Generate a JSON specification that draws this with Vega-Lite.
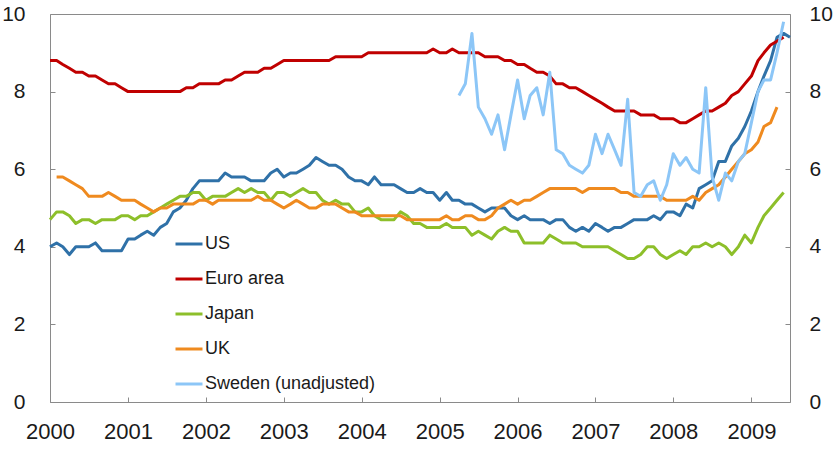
{
  "$schema": "https://vega.github.io/schema/vega-lite/v6.json",
  "width": 740,
  "height": 388,
  "autosize": {"type": "none"},
  "padding": {"left": 50, "top": 14, "right": 48, "bottom": 52},
  "background": "white",
  "config": {
    "view": {"stroke": "#8a8a8a", "strokeWidth": 1},
    "font": "Liberation Sans",
    "axis": {"grid": false, "domain": false, "tickColor": "#8a8a8a", "tickSize": -5, "labelFontSize": 21, "labelColor": "#1a1a1a", "title": null}
  },
  "data": {"values": [
    {"date": "2000/01/01", "US": 4.0, "Euro area": 8.8, "Japan": 4.7, "UK": null, "Sweden (unadjusted)": null},
    {"date": "2000/02/01", "US": 4.1, "Euro area": 8.8, "Japan": 4.9, "UK": 5.8, "Sweden (unadjusted)": null},
    {"date": "2000/03/01", "US": 4.0, "Euro area": 8.7, "Japan": 4.9, "UK": 5.8, "Sweden (unadjusted)": null},
    {"date": "2000/04/01", "US": 3.8, "Euro area": 8.6, "Japan": 4.8, "UK": 5.7, "Sweden (unadjusted)": null},
    {"date": "2000/05/01", "US": 4.0, "Euro area": 8.5, "Japan": 4.6, "UK": 5.6, "Sweden (unadjusted)": null},
    {"date": "2000/06/01", "US": 4.0, "Euro area": 8.5, "Japan": 4.7, "UK": 5.5, "Sweden (unadjusted)": null},
    {"date": "2000/07/01", "US": 4.0, "Euro area": 8.4, "Japan": 4.7, "UK": 5.3, "Sweden (unadjusted)": null},
    {"date": "2000/08/01", "US": 4.1, "Euro area": 8.4, "Japan": 4.6, "UK": 5.3, "Sweden (unadjusted)": null},
    {"date": "2000/09/01", "US": 3.9, "Euro area": 8.3, "Japan": 4.7, "UK": 5.3, "Sweden (unadjusted)": null},
    {"date": "2000/10/01", "US": 3.9, "Euro area": 8.2, "Japan": 4.7, "UK": 5.4, "Sweden (unadjusted)": null},
    {"date": "2000/11/01", "US": 3.9, "Euro area": 8.2, "Japan": 4.7, "UK": 5.3, "Sweden (unadjusted)": null},
    {"date": "2000/12/01", "US": 3.9, "Euro area": 8.1, "Japan": 4.8, "UK": 5.2, "Sweden (unadjusted)": null},
    {"date": "2001/01/01", "US": 4.2, "Euro area": 8.0, "Japan": 4.8, "UK": 5.2, "Sweden (unadjusted)": null},
    {"date": "2001/02/01", "US": 4.2, "Euro area": 8.0, "Japan": 4.7, "UK": 5.2, "Sweden (unadjusted)": null},
    {"date": "2001/03/01", "US": 4.3, "Euro area": 8.0, "Japan": 4.8, "UK": 5.1, "Sweden (unadjusted)": null},
    {"date": "2001/04/01", "US": 4.4, "Euro area": 8.0, "Japan": 4.8, "UK": 5.0, "Sweden (unadjusted)": null},
    {"date": "2001/05/01", "US": 4.3, "Euro area": 8.0, "Japan": 4.9, "UK": 4.9, "Sweden (unadjusted)": null},
    {"date": "2001/06/01", "US": 4.5, "Euro area": 8.0, "Japan": 5.0, "UK": 5.0, "Sweden (unadjusted)": null},
    {"date": "2001/07/01", "US": 4.6, "Euro area": 8.0, "Japan": 5.1, "UK": 5.0, "Sweden (unadjusted)": null},
    {"date": "2001/08/01", "US": 4.9, "Euro area": 8.0, "Japan": 5.2, "UK": 5.1, "Sweden (unadjusted)": null},
    {"date": "2001/09/01", "US": 5.0, "Euro area": 8.0, "Japan": 5.3, "UK": 5.1, "Sweden (unadjusted)": null},
    {"date": "2001/10/01", "US": 5.2, "Euro area": 8.1, "Japan": 5.3, "UK": 5.1, "Sweden (unadjusted)": null},
    {"date": "2001/11/01", "US": 5.5, "Euro area": 8.1, "Japan": 5.4, "UK": 5.1, "Sweden (unadjusted)": null},
    {"date": "2001/12/01", "US": 5.7, "Euro area": 8.2, "Japan": 5.4, "UK": 5.2, "Sweden (unadjusted)": null},
    {"date": "2002/01/01", "US": 5.7, "Euro area": 8.2, "Japan": 5.2, "UK": 5.2, "Sweden (unadjusted)": null},
    {"date": "2002/02/01", "US": 5.7, "Euro area": 8.2, "Japan": 5.3, "UK": 5.1, "Sweden (unadjusted)": null},
    {"date": "2002/03/01", "US": 5.7, "Euro area": 8.2, "Japan": 5.3, "UK": 5.2, "Sweden (unadjusted)": null},
    {"date": "2002/04/01", "US": 5.9, "Euro area": 8.3, "Japan": 5.3, "UK": 5.2, "Sweden (unadjusted)": null},
    {"date": "2002/05/01", "US": 5.8, "Euro area": 8.3, "Japan": 5.4, "UK": 5.2, "Sweden (unadjusted)": null},
    {"date": "2002/06/01", "US": 5.8, "Euro area": 8.4, "Japan": 5.5, "UK": 5.2, "Sweden (unadjusted)": null},
    {"date": "2002/07/01", "US": 5.8, "Euro area": 8.5, "Japan": 5.4, "UK": 5.2, "Sweden (unadjusted)": null},
    {"date": "2002/08/01", "US": 5.7, "Euro area": 8.5, "Japan": 5.5, "UK": 5.2, "Sweden (unadjusted)": null},
    {"date": "2002/09/01", "US": 5.7, "Euro area": 8.5, "Japan": 5.4, "UK": 5.3, "Sweden (unadjusted)": null},
    {"date": "2002/10/01", "US": 5.7, "Euro area": 8.6, "Japan": 5.4, "UK": 5.2, "Sweden (unadjusted)": null},
    {"date": "2002/11/01", "US": 5.9, "Euro area": 8.6, "Japan": 5.2, "UK": 5.2, "Sweden (unadjusted)": null},
    {"date": "2002/12/01", "US": 6.0, "Euro area": 8.7, "Japan": 5.4, "UK": 5.1, "Sweden (unadjusted)": null},
    {"date": "2003/01/01", "US": 5.8, "Euro area": 8.8, "Japan": 5.4, "UK": 5.0, "Sweden (unadjusted)": null},
    {"date": "2003/02/01", "US": 5.9, "Euro area": 8.8, "Japan": 5.3, "UK": 5.1, "Sweden (unadjusted)": null},
    {"date": "2003/03/01", "US": 5.9, "Euro area": 8.8, "Japan": 5.4, "UK": 5.2, "Sweden (unadjusted)": null},
    {"date": "2003/04/01", "US": 6.0, "Euro area": 8.8, "Japan": 5.5, "UK": 5.1, "Sweden (unadjusted)": null},
    {"date": "2003/05/01", "US": 6.1, "Euro area": 8.8, "Japan": 5.4, "UK": 5.0, "Sweden (unadjusted)": null},
    {"date": "2003/06/01", "US": 6.3, "Euro area": 8.8, "Japan": 5.4, "UK": 5.0, "Sweden (unadjusted)": null},
    {"date": "2003/07/01", "US": 6.2, "Euro area": 8.8, "Japan": 5.2, "UK": 5.1, "Sweden (unadjusted)": null},
    {"date": "2003/08/01", "US": 6.1, "Euro area": 8.8, "Japan": 5.1, "UK": 5.1, "Sweden (unadjusted)": null},
    {"date": "2003/09/01", "US": 6.1, "Euro area": 8.9, "Japan": 5.2, "UK": 5.1, "Sweden (unadjusted)": null},
    {"date": "2003/10/01", "US": 6.0, "Euro area": 8.9, "Japan": 5.1, "UK": 5.0, "Sweden (unadjusted)": null},
    {"date": "2003/11/01", "US": 5.8, "Euro area": 8.9, "Japan": 5.1, "UK": 4.9, "Sweden (unadjusted)": null},
    {"date": "2003/12/01", "US": 5.7, "Euro area": 8.9, "Japan": 4.9, "UK": 4.9, "Sweden (unadjusted)": null},
    {"date": "2004/01/01", "US": 5.7, "Euro area": 8.9, "Japan": 4.9, "UK": 4.8, "Sweden (unadjusted)": null},
    {"date": "2004/02/01", "US": 5.6, "Euro area": 9.0, "Japan": 5.0, "UK": 4.8, "Sweden (unadjusted)": null},
    {"date": "2004/03/01", "US": 5.8, "Euro area": 9.0, "Japan": 4.8, "UK": 4.8, "Sweden (unadjusted)": null},
    {"date": "2004/04/01", "US": 5.6, "Euro area": 9.0, "Japan": 4.7, "UK": 4.8, "Sweden (unadjusted)": null},
    {"date": "2004/05/01", "US": 5.6, "Euro area": 9.0, "Japan": 4.7, "UK": 4.8, "Sweden (unadjusted)": null},
    {"date": "2004/06/01", "US": 5.6, "Euro area": 9.0, "Japan": 4.7, "UK": 4.8, "Sweden (unadjusted)": null},
    {"date": "2004/07/01", "US": 5.5, "Euro area": 9.0, "Japan": 4.9, "UK": 4.8, "Sweden (unadjusted)": null},
    {"date": "2004/08/01", "US": 5.4, "Euro area": 9.0, "Japan": 4.8, "UK": 4.7, "Sweden (unadjusted)": null},
    {"date": "2004/09/01", "US": 5.4, "Euro area": 9.0, "Japan": 4.6, "UK": 4.7, "Sweden (unadjusted)": null},
    {"date": "2004/10/01", "US": 5.5, "Euro area": 9.0, "Japan": 4.6, "UK": 4.7, "Sweden (unadjusted)": null},
    {"date": "2004/11/01", "US": 5.4, "Euro area": 9.0, "Japan": 4.5, "UK": 4.7, "Sweden (unadjusted)": null},
    {"date": "2004/12/01", "US": 5.4, "Euro area": 9.1, "Japan": 4.5, "UK": 4.7, "Sweden (unadjusted)": null},
    {"date": "2005/01/01", "US": 5.2, "Euro area": 9.0, "Japan": 4.5, "UK": 4.7, "Sweden (unadjusted)": null},
    {"date": "2005/02/01", "US": 5.4, "Euro area": 9.0, "Japan": 4.6, "UK": 4.8, "Sweden (unadjusted)": null},
    {"date": "2005/03/01", "US": 5.2, "Euro area": 9.1, "Japan": 4.5, "UK": 4.7, "Sweden (unadjusted)": null},
    {"date": "2005/04/01", "US": 5.2, "Euro area": 9.0, "Japan": 4.5, "UK": 4.7, "Sweden (unadjusted)": 7.9},
    {"date": "2005/05/01", "US": 5.1, "Euro area": 9.0, "Japan": 4.5, "UK": 4.8, "Sweden (unadjusted)": 8.2},
    {"date": "2005/06/01", "US": 5.1, "Euro area": 9.0, "Japan": 4.3, "UK": 4.8, "Sweden (unadjusted)": 9.5},
    {"date": "2005/07/01", "US": 5.0, "Euro area": 9.0, "Japan": 4.4, "UK": 4.7, "Sweden (unadjusted)": 7.6},
    {"date": "2005/08/01", "US": 4.9, "Euro area": 8.9, "Japan": 4.3, "UK": 4.7, "Sweden (unadjusted)": 7.3},
    {"date": "2005/09/01", "US": 5.0, "Euro area": 8.9, "Japan": 4.2, "UK": 4.8, "Sweden (unadjusted)": 6.9},
    {"date": "2005/10/01", "US": 5.0, "Euro area": 8.9, "Japan": 4.4, "UK": 5.0, "Sweden (unadjusted)": 7.4},
    {"date": "2005/11/01", "US": 5.0, "Euro area": 8.8, "Japan": 4.5, "UK": 5.1, "Sweden (unadjusted)": 6.5},
    {"date": "2005/12/01", "US": 4.8, "Euro area": 8.8, "Japan": 4.4, "UK": 5.2, "Sweden (unadjusted)": 7.4},
    {"date": "2006/01/01", "US": 4.7, "Euro area": 8.7, "Japan": 4.4, "UK": 5.1, "Sweden (unadjusted)": 8.3},
    {"date": "2006/02/01", "US": 4.8, "Euro area": 8.7, "Japan": 4.1, "UK": 5.2, "Sweden (unadjusted)": 7.3},
    {"date": "2006/03/01", "US": 4.7, "Euro area": 8.6, "Japan": 4.1, "UK": 5.2, "Sweden (unadjusted)": 7.9},
    {"date": "2006/04/01", "US": 4.7, "Euro area": 8.5, "Japan": 4.1, "UK": 5.3, "Sweden (unadjusted)": 8.1},
    {"date": "2006/05/01", "US": 4.7, "Euro area": 8.5, "Japan": 4.1, "UK": 5.4, "Sweden (unadjusted)": 7.4},
    {"date": "2006/06/01", "US": 4.6, "Euro area": 8.4, "Japan": 4.3, "UK": 5.5, "Sweden (unadjusted)": 8.5},
    {"date": "2006/07/01", "US": 4.7, "Euro area": 8.2, "Japan": 4.2, "UK": 5.5, "Sweden (unadjusted)": 6.5},
    {"date": "2006/08/01", "US": 4.7, "Euro area": 8.2, "Japan": 4.1, "UK": 5.5, "Sweden (unadjusted)": 6.4},
    {"date": "2006/09/01", "US": 4.5, "Euro area": 8.1, "Japan": 4.1, "UK": 5.5, "Sweden (unadjusted)": 6.1},
    {"date": "2006/10/01", "US": 4.4, "Euro area": 8.1, "Japan": 4.1, "UK": 5.5, "Sweden (unadjusted)": 6.0},
    {"date": "2006/11/01", "US": 4.5, "Euro area": 8.0, "Japan": 4.0, "UK": 5.4, "Sweden (unadjusted)": 5.9},
    {"date": "2006/12/01", "US": 4.4, "Euro area": 7.9, "Japan": 4.0, "UK": 5.5, "Sweden (unadjusted)": 6.1},
    {"date": "2007/01/01", "US": 4.6, "Euro area": 7.8, "Japan": 4.0, "UK": 5.5, "Sweden (unadjusted)": 6.9},
    {"date": "2007/02/01", "US": 4.5, "Euro area": 7.7, "Japan": 4.0, "UK": 5.5, "Sweden (unadjusted)": 6.4},
    {"date": "2007/03/01", "US": 4.4, "Euro area": 7.6, "Japan": 4.0, "UK": 5.5, "Sweden (unadjusted)": 6.9},
    {"date": "2007/04/01", "US": 4.5, "Euro area": 7.5, "Japan": 3.9, "UK": 5.5, "Sweden (unadjusted)": 6.5},
    {"date": "2007/05/01", "US": 4.5, "Euro area": 7.5, "Japan": 3.8, "UK": 5.4, "Sweden (unadjusted)": 6.1},
    {"date": "2007/06/01", "US": 4.6, "Euro area": 7.5, "Japan": 3.7, "UK": 5.4, "Sweden (unadjusted)": 7.8},
    {"date": "2007/07/01", "US": 4.7, "Euro area": 7.5, "Japan": 3.7, "UK": 5.3, "Sweden (unadjusted)": 5.4},
    {"date": "2007/08/01", "US": 4.7, "Euro area": 7.4, "Japan": 3.8, "UK": 5.3, "Sweden (unadjusted)": 5.3},
    {"date": "2007/09/01", "US": 4.7, "Euro area": 7.4, "Japan": 4.0, "UK": 5.3, "Sweden (unadjusted)": 5.6},
    {"date": "2007/10/01", "US": 4.8, "Euro area": 7.4, "Japan": 4.0, "UK": 5.3, "Sweden (unadjusted)": 5.7},
    {"date": "2007/11/01", "US": 4.7, "Euro area": 7.3, "Japan": 3.8, "UK": 5.3, "Sweden (unadjusted)": 5.2},
    {"date": "2007/12/01", "US": 4.9, "Euro area": 7.3, "Japan": 3.7, "UK": 5.2, "Sweden (unadjusted)": 5.6},
    {"date": "2008/01/01", "US": 4.9, "Euro area": 7.3, "Japan": 3.8, "UK": 5.2, "Sweden (unadjusted)": 6.4},
    {"date": "2008/02/01", "US": 4.8, "Euro area": 7.2, "Japan": 3.9, "UK": 5.2, "Sweden (unadjusted)": 6.1},
    {"date": "2008/03/01", "US": 5.1, "Euro area": 7.2, "Japan": 3.8, "UK": 5.2, "Sweden (unadjusted)": 6.3},
    {"date": "2008/04/01", "US": 5.0, "Euro area": 7.3, "Japan": 4.0, "UK": 5.3, "Sweden (unadjusted)": 6.0},
    {"date": "2008/05/01", "US": 5.5, "Euro area": 7.4, "Japan": 4.0, "UK": 5.2, "Sweden (unadjusted)": 5.9},
    {"date": "2008/06/01", "US": 5.6, "Euro area": 7.5, "Japan": 4.1, "UK": 5.4, "Sweden (unadjusted)": 8.1},
    {"date": "2008/07/01", "US": 5.7, "Euro area": 7.5, "Japan": 4.0, "UK": 5.5, "Sweden (unadjusted)": 5.8},
    {"date": "2008/08/01", "US": 6.2, "Euro area": 7.6, "Japan": 4.1, "UK": 5.6, "Sweden (unadjusted)": 5.2},
    {"date": "2008/09/01", "US": 6.2, "Euro area": 7.7, "Japan": 4.0, "UK": 5.8, "Sweden (unadjusted)": 5.9},
    {"date": "2008/10/01", "US": 6.6, "Euro area": 7.9, "Japan": 3.8, "UK": 6.0, "Sweden (unadjusted)": 5.7},
    {"date": "2008/11/01", "US": 6.8, "Euro area": 8.0, "Japan": 4.0, "UK": 6.2, "Sweden (unadjusted)": 6.2},
    {"date": "2008/12/01", "US": 7.1, "Euro area": 8.2, "Japan": 4.3, "UK": 6.4, "Sweden (unadjusted)": 6.4},
    {"date": "2009/01/01", "US": 7.5, "Euro area": 8.4, "Japan": 4.1, "UK": 6.5, "Sweden (unadjusted)": 7.2},
    {"date": "2009/02/01", "US": 8.0, "Euro area": 8.8, "Japan": 4.5, "UK": 6.7, "Sweden (unadjusted)": 8.0},
    {"date": "2009/03/01", "US": 8.4, "Euro area": 9.0, "Japan": 4.8, "UK": 7.1, "Sweden (unadjusted)": 8.3},
    {"date": "2009/04/01", "US": 8.8, "Euro area": 9.2, "Japan": 5.0, "UK": 7.2, "Sweden (unadjusted)": 8.3},
    {"date": "2009/05/01", "US": 9.4, "Euro area": 9.3, "Japan": 5.2, "UK": 7.6, "Sweden (unadjusted)": 9.0},
    {"date": "2009/06/01", "US": 9.5, "Euro area": 9.4, "Japan": 5.4, "UK": null, "Sweden (unadjusted)": 9.8},
    {"date": "2009/07/01", "US": 9.4, "Euro area": null, "Japan": null, "UK": null, "Sweden (unadjusted)": null}
  ]},
  "transform": [
    {"fold": ["US", "Euro area", "Japan", "UK", "Sweden (unadjusted)"], "as": ["series", "value"]},
    {"filter": "datum.value != null"}
  ],
  "layer": [
    {
      "mark": {"type": "line", "strokeWidth": 3, "strokeJoin": "round"},
      "encoding": {
        "x": {"field": "date", "type": "temporal",
              "scale": {"domain": [{"year": 2000, "month": 1, "date": 1}, {"year": 2009, "month": 7, "date": 1}]},
              "axis": {"format": "%Y", "tickCount": {"interval": "year", "step": 1}, "labelPadding": 24, "labelAlign": "center", "labelFontSize": 22}},
        "y": {"field": "value", "type": "quantitative", "scale": {"domain": [0, 10]},
              "axis": {"values": [0, 2, 4, 6, 8, 10], "labelPadding": 30, "orient": "left"}},
        "color": {"field": "series", "type": "nominal",
                  "scale": {"domain": ["US", "Euro area", "Japan", "UK", "Sweden (unadjusted)"],
                            "range": ["#2f71a8", "#c00000", "#8dbf2a", "#ef8a1f", "#8cc6f7"]},
                  "legend": {"orient": "none", "legendX": 124, "legendY": 215, "title": null, "symbolType": "stroke",
                             "symbolSize": 729, "symbolStrokeWidth": 3, "labelFontSize": 18, "labelColor": "#1a1a1a",
                             "labelOffset": 1, "rowPadding": 11, "padding": 0, "labelLimit": 400}}
      }
    },
    {
      "mark": {"type": "line", "opacity": 0},
      "encoding": {
        "x": {"field": "date", "type": "temporal"},
        "y": {"field": "value", "type": "quantitative",
              "axis": {"values": [0, 2, 4, 6, 8, 10], "labelPadding": 24, "orient": "right"}},
        "detail": {"field": "series"}
      }
    }
  ],
  "resolve": {"axis": {"y": "independent"}}
}
